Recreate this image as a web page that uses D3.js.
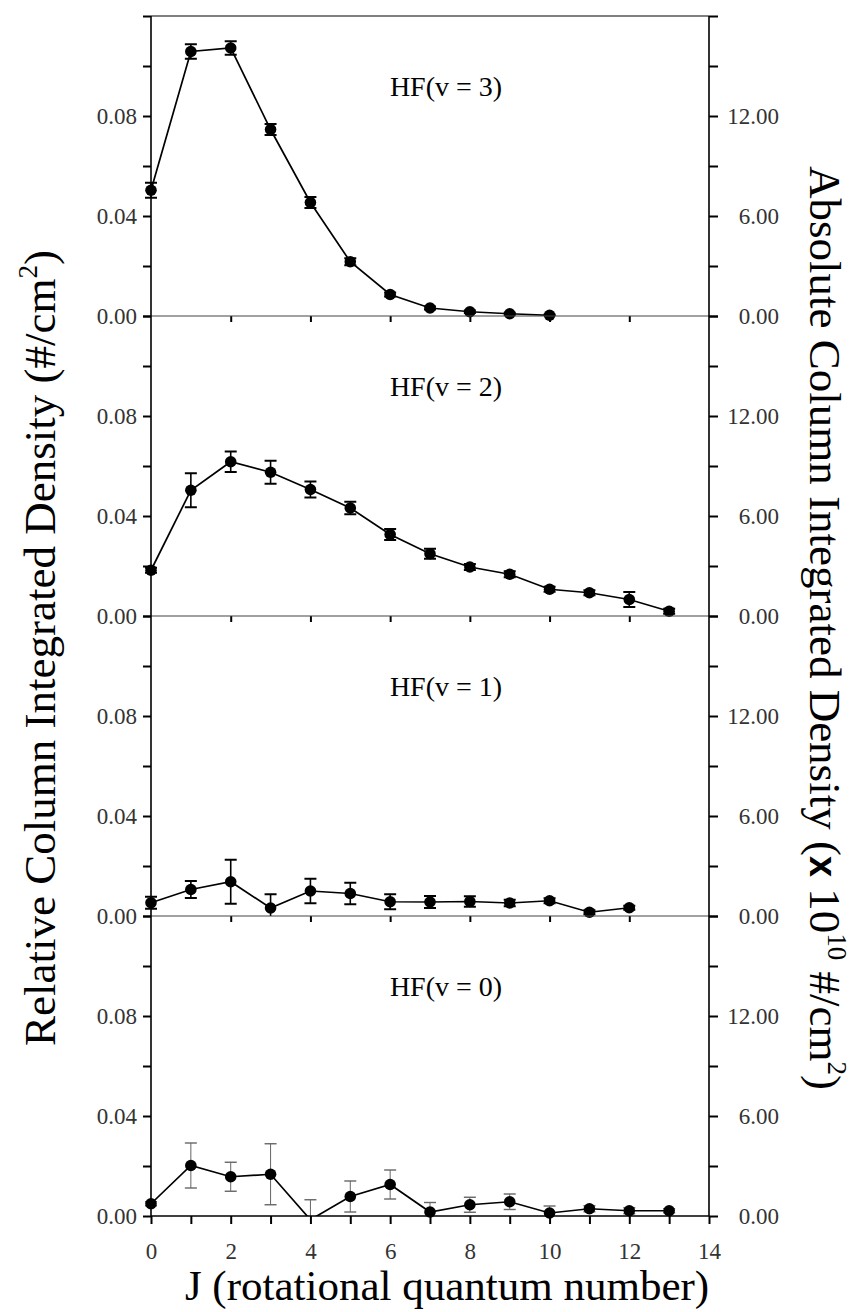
<!DOCTYPE html>
<html lang="en">

<head>
  <meta charset="UTF-8">
  <script src="https://d3js.org/d3.v7.min.js"></script>
  <title>HF rotational distributions</title>
  <style>
    body { margin: 0; background: #fff; }
    svg { display: block; }
  </style>
</head>

<body>
  <svg width="857" height="1312"></svg>

  <script>
    // J (rotational quantum number)
    const J = [0, 1, 2, 3, 4, 5, 6, 7, 8, 9, 10, 11, 12, 13]

    const labels = ['HF(v = 3)', 'HF(v = 2)', 'HF(v = 1)', 'HF(v = 0)']

    const v3 = [0.0503, 0.1058, 0.1072, 0.0746, 0.0454, 0.0217, 0.0086, 0.0032, 0.0017, 0.0009, 0.0003]
    const v3err = [0.0030, 0.0029, 0.0027, 0.0022, 0.0022, 0.0014, 0.0008, 0.0006, 0.0005, 0.0004, 0.0003]

    const v2 = [0.0183, 0.0503, 0.0617, 0.0575, 0.0506, 0.0432, 0.0326, 0.0249, 0.0196, 0.0167, 0.0107, 0.0093, 0.0066, 0.0019]
    const v2err = [0.0010, 0.0068, 0.0041, 0.0046, 0.0032, 0.0025, 0.0022, 0.0020, 0.0012, 0.0012, 0.0010, 0.0010, 0.0030, 0.0010]

    const v1 = [0.0053, 0.0106, 0.0137, 0.0032, 0.0100, 0.0090, 0.0057, 0.0056, 0.0058, 0.0052, 0.0061, 0.0015, 0.0033]
    const v1err = [0.0024, 0.0034, 0.0088, 0.0055, 0.0049, 0.0043, 0.0030, 0.0024, 0.0021, 0.0013, 0.0010, 0.0008, 0.0008]

    const v0 = [0.0049, 0.0202, 0.0157, 0.0167, -0.0015, 0.0078, 0.0126, 0.0016, 0.0045, 0.0057, 0.0012, 0.0029, 0.0021, 0.0021]
    const v0err = [0.0008, 0.0090, 0.0058, 0.0122, 0.0080, 0.0062, 0.0058, 0.0038, 0.0030, 0.0031, 0.0028, 0.0012, 0.0012, 0.0008]

    const leftTicks = [0, 0.02, 0.04, 0.06, 0.08, 0.10, 0.12]
    const leftLabels = [0, 0.04, 0.08]
    const rightTicks = [0, 3, 6, 9, 12, 15, 18]
    const rightLabels = [0, 6, 12]
    const xTicks = [0, 1, 2, 3, 4, 5, 6, 7, 8, 9, 10, 11, 12, 13, 14]
    const xInnerTicks = [2, 4, 6, 8, 10, 12]

    const series = [[v3, v3err], [v2, v2err], [v1, v1err], [v0, v0err]]

    const SERIF = "'Liberation Serif', 'Times New Roman', serif"
    const LEFT = 151, RIGHT = 709, TOP = 16, PANEL_H = 300
    const BOTTOM = TOP + PANEL_H * series.length

    const svg = d3.select('svg')
    const x = d3.scaleLinear().domain([0, 14]).range([LEFT, RIGHT])
    const fmt = d3.format('.2f')

    function styleAxis(g, size) {
      g.attr('font-family', SERIF).attr('font-size', size)
      g.select('.domain').remove()
      g.selectAll('.tick line').attr('stroke', '#000').attr('stroke-width', 2)
      g.selectAll('.tick text').attr('fill', '#333')
    }

    series.forEach(([values, errors], i) => {
      const top = TOP + i * PANEL_H
      const y = d3.scaleLinear().domain([0, 0.12]).range([top + PANEL_H, top])
      const yR = d3.scaleLinear().domain([0, 18]).range([top + PANEL_H, top])
      const pts = values.map((v, k) => ({ j: J[k], v, e: errors[k] }))

      svg.append('clipPath').attr('id', 'clip' + i)
        .append('rect').attr('x', 0).attr('y', top).attr('width', 857).attr('height', PANEL_H)

      // left / right ticks
      svg.append('g').attr('transform', `translate(${LEFT},0)`)
        .call(d3.axisLeft(y).tickValues(leftTicks).tickSize(8).tickPadding(6)
          .tickFormat(d => leftLabels.some(l => Math.abs(l - d) < 1e-9) ? fmt(d) : ''))
        .call(styleAxis, 23)

      const gr = svg.append('g').attr('transform', `translate(${RIGHT},0)`)
        .call(d3.axisRight(yR).tickValues(rightTicks).tickSize(9)
          .tickFormat(d => rightLabels.includes(d) ? fmt(d) : ''))
        .call(styleAxis, 23)
      gr.selectAll('.tick text').attr('text-anchor', 'end').attr('x', 70)

      // ticks hanging from the panel top
      if (i > 0) {
        svg.append('g').attr('transform', `translate(0,${top})`)
          .call(d3.axisBottom(x).tickValues(xInnerTicks).tickSize(6).tickFormat(''))
          .call(styleAxis, 10)
      }

      // panel top border
      svg.append('line')
        .attr('x1', LEFT).attr('x2', RIGHT).attr('y1', top).attr('y2', top)
        .attr('stroke', i === 0 ? '#000' : '#444').attr('stroke-width', 1.2)

      const plot = svg.append('g').attr('clip-path', `url(#clip${i})`)
      const errColor = i === 3 ? '#666' : '#000'
      const errWidth = i === 3 ? 1 : 1.6

      const bars = plot.selectAll('.err').data(pts).join('g')
      bars.append('line')
        .attr('x1', d => x(d.j)).attr('x2', d => x(d.j))
        .attr('y1', d => y(d.v - d.e)).attr('y2', d => y(d.v + d.e))
        .attr('stroke', errColor).attr('stroke-width', errWidth)
      ;[-1, 1].forEach(s => {
        bars.append('line')
          .attr('x1', d => x(d.j) - 6).attr('x2', d => x(d.j) + 6)
          .attr('y1', d => y(d.v + s * d.e)).attr('y2', d => y(d.v + s * d.e))
          .attr('stroke', errColor).attr('stroke-width', errWidth + 0.4)
      })

      plot.append('path').datum(pts)
        .attr('fill', 'none').attr('stroke', '#000').attr('stroke-width', 1.7)
        .attr('d', d3.line().x(d => x(d.j)).y(d => y(d.v)))

      // symbols are only drawn when inside the axis range
      svg.append('g').selectAll('circle').data(pts.filter(d => d.v >= 0)).join('circle')
        .attr('cx', d => x(d.j)).attr('cy', d => y(d.v)).attr('r', 5.8)
        .attr('fill', '#000')

      svg.append('text')
        .attr('x', 446).attr('y', top + 80)
        .attr('text-anchor', 'middle')
        .attr('font-family', SERIF).attr('font-size', 28)
        .text(labels[i])
    })

    // bottom axis
    svg.append('g').attr('transform', `translate(0,${BOTTOM})`)
      .call(d3.axisBottom(x).tickValues(xTicks).tickSize(8).tickPadding(19)
        .tickFormat(d => d % 2 === 0 ? d : ''))
      .call(styleAxis, 23)

    svg.append('line')
      .attr('x1', LEFT).attr('x2', RIGHT).attr('y1', BOTTOM).attr('y2', BOTTOM)
      .attr('stroke', '#000').attr('stroke-width', 1.6)
    ;[LEFT, RIGHT].forEach(px => {
      svg.append('line')
        .attr('x1', px).attr('x2', px).attr('y1', TOP).attr('y2', BOTTOM)
        .attr('stroke', '#000').attr('stroke-width', 1.6)
    })

    // axis titles
    svg.append('text')
      .attr('x', 447).attr('y', 1300)
      .attr('text-anchor', 'middle')
      .attr('font-family', SERIF).attr('font-size', 43)
      .text('J (rotational quantum number)')

    const lt = svg.append('text')
      .attr('transform', 'translate(55,648) rotate(-90)')
      .attr('text-anchor', 'middle')
      .attr('font-family', SERIF).attr('font-size', 45)
    lt.append('tspan').text('Relative Column Integrated Density (#/cm')
    lt.append('tspan').attr('font-size', 27).attr('dy', -18).text('2')
    lt.append('tspan').attr('dy', 18).text(')')

    const rt = svg.append('text')
      .attr('transform', 'translate(810,628) rotate(90)')
      .attr('text-anchor', 'middle')
      .attr('font-family', SERIF).attr('font-size', 45)
    rt.append('tspan').text('Absolute Column Integrated Density (')
    rt.append('tspan').attr('font-family', "'Liberation Sans', Arial, sans-serif")
      .attr('font-weight', 'bold').attr('font-size', 38).text('x')
    rt.append('tspan').text(' 10')
    rt.append('tspan').attr('font-size', 27).attr('dy', -18).text('10')
    rt.append('tspan').attr('dy', 18).text('  #/cm')
    rt.append('tspan').attr('font-size', 27).attr('dy', -18).text('2')
    rt.append('tspan').attr('dy', 18).text(')')
  </script>
</body>

</html>
